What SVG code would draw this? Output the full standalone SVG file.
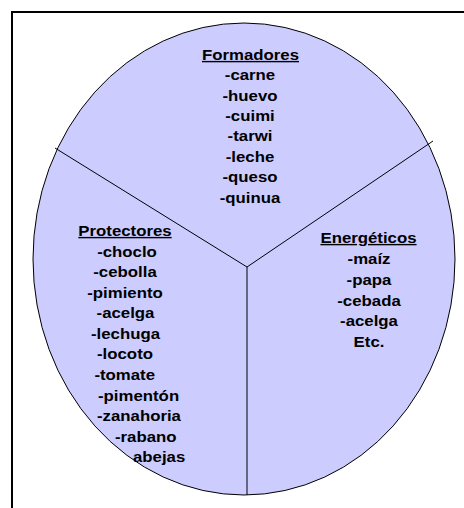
<svg xmlns="http://www.w3.org/2000/svg" width="464" height="508" viewBox="0 0 464 508">
<style>
text{font-family:"Liberation Sans",Arial,sans-serif;font-weight:bold;font-size:14px;fill:#000}
.c{text-anchor:middle}
.s{text-anchor:start}
.h{text-decoration:underline}
.div{stroke:#000;stroke-width:1;fill:none}
</style>
<rect x="12" y="12" width="460" height="500" fill="#fff" stroke="#000" stroke-width="2"/>
<ellipse cx="244" cy="259" rx="211" ry="236" fill="#CCCCFF" stroke="#000" stroke-width="1"/>
<g id="connectors">
<line class="div" x1="247" y1="267" x2="55" y2="148"/>
<line class="div" x1="247" y1="267" x2="433" y2="141"/>
<line class="div" x1="247" y1="267" x2="247" y2="495"/>
</g>
<g id="formadores">
<text class="c h" transform="translate(250.5,60) scale(1.2,1)">Formadores</text>
<text class="c" transform="translate(250,80) scale(1.2,1)">-carne</text>
<text class="c" transform="translate(250,100.5) scale(1.2,1)">-huevo</text>
<text class="c" transform="translate(250,121) scale(1.2,1)">-cuimi</text>
<text class="c" transform="translate(250,141) scale(1.2,1)">-tarwi</text>
<text class="c" transform="translate(250,161.5) scale(1.2,1)">-leche</text>
<text class="c" transform="translate(250,182) scale(1.2,1)">-queso</text>
<text class="c" transform="translate(250,202.5) scale(1.2,1)">-quinua</text>
</g>
<g id="protectores">
<text class="c h" transform="translate(125,236) scale(1.2,1)">Protectores</text>
<text class="c" transform="translate(127,256.5) scale(1.2,1)">-choclo</text>
<text class="c" transform="translate(125,277) scale(1.2,1)">-cebolla</text>
<text class="c" transform="translate(125,297.5) scale(1.2,1)">-pimiento</text>
<text class="c" transform="translate(125.5,318) scale(1.2,1)">-acelga</text>
<text class="c" transform="translate(125.5,338.5) scale(1.2,1)">-lechuga</text>
<text class="c" transform="translate(125,359) scale(1.2,1)">-locoto</text>
<text class="c" transform="translate(124.7,379.5) scale(1.2,1)">-tomate</text>
<text class="s" transform="translate(98,400.5) scale(1.2,1)">-pimentón</text>
<text class="s" transform="translate(97,421) scale(1.2,1)">-zanahoria</text>
<text class="s" transform="translate(115,441.5) scale(1.2,1)">-rabano</text>
<text class="s" transform="translate(133,462) scale(1.2,1)">abejas</text>
</g>
<g id="energeticos">
<text class="c h" transform="translate(368.5,243) scale(1.2,1)">Energéticos</text>
<text class="c" transform="translate(369,263.5) scale(1.2,1)">-maíz</text>
<text class="c" transform="translate(369,284.5) scale(1.2,1)">-papa</text>
<text class="c" transform="translate(369,305.5) scale(1.2,1)">-cebada</text>
<text class="c" transform="translate(369,326) scale(1.2,1)">-acelga</text>
<text class="c" transform="translate(369,346.5) scale(1.2,1)">Etc.</text>
</g>
</svg>
